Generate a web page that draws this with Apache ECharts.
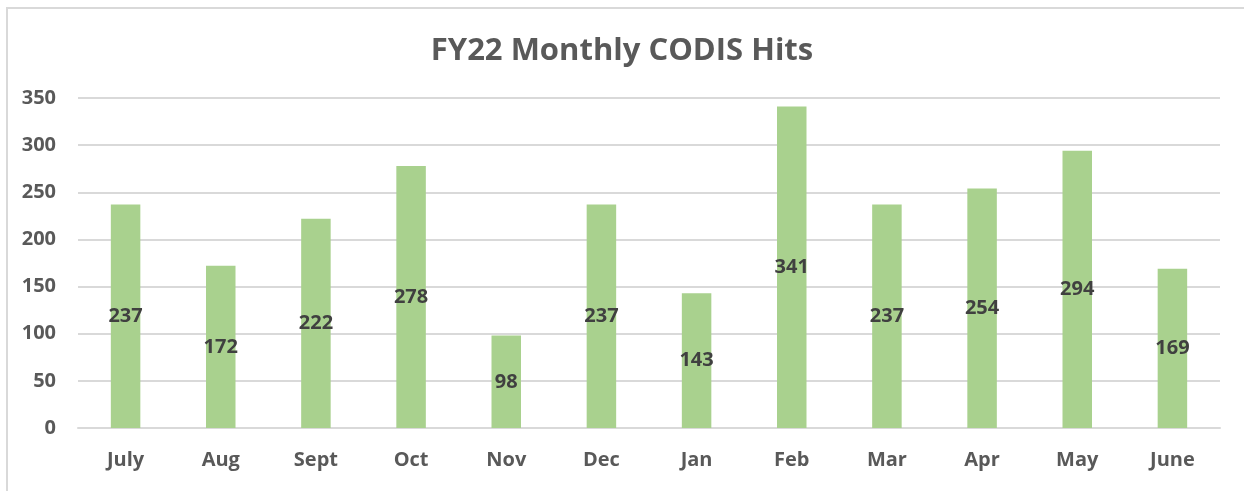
<!DOCTYPE html>
<html>
<head>
<meta charset="utf-8">
<script src="https://cdn.jsdelivr.net/npm/echarts@6/dist/echarts.min.js"></script>
<style>
  html, body { margin: 0; padding: 0; background: #fff; overflow: hidden; }
  #frame { position: absolute; left: 6px; top: 7px; width: 1260px; height: 500px; border: 2px solid #d9d9d9; }
  #bar { position: absolute; left: 0; top: 0; width: 1244px; height: 491px; }
</style>
</head>
<body>
<div id="frame"></div>
<div id="bar"></div>
<script>
var months = ['July', 'Aug', 'Sept', 'Oct', 'Nov', 'Dec', 'Jan', 'Feb', 'Mar', 'Apr', 'May', 'June'];
var hits = [237, 172, 222, 278, 98, 237, 143, 341, 237, 254, 294, 169];

var font = '"Open Sans", sans-serif';
var chart = echarts.init(document.getElementById('bar'));
chart.setOption({
  animation: false,
  title: {
    text: 'FY22 Monthly CODIS Hits',
    left: 'center',
    top: 31,
    textStyle: { fontFamily: font, fontSize: 31, fontWeight: 'bold', color: '#595959' }
  },
  grid: { left: 78, right: 24, top: 98, bottom: 63, containLabel: false },
  xAxis: {
    type: 'category',
    data: months,
    axisTick: { show: false },
    axisLine: { lineStyle: { color: '#d9d9d9', width: 2 } },
    axisLabel: { fontFamily: font, fontSize: 20, fontWeight: 'bold', color: '#595959', margin: 22 }
  },
  yAxis: {
    type: 'value',
    min: 0,
    max: 350,
    interval: 50,
    axisLine: { show: false },
    axisTick: { show: false },
    splitLine: { lineStyle: { color: '#d9d9d9', width: 2 } },
    axisLabel: { fontFamily: font, fontSize: 20, fontWeight: 'bold', color: '#595959', margin: 22 }
  },
  series: [{
    type: 'bar',
    data: hits,
    barWidth: '31%',
    itemStyle: { color: '#a9d18e' },
    label: {
      show: true,
      position: 'inside',
      fontFamily: font,
      fontSize: 20,
      fontWeight: 'bold',
      color: '#404040'
    }
  }]
});
</script>
</body>
</html>
